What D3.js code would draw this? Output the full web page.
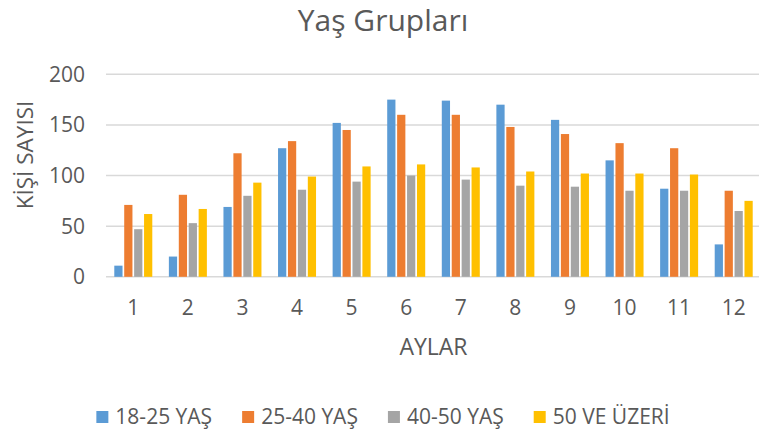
<!DOCTYPE html>
<meta charset="utf-8">
<script src="https://d3js.org/d3.v7.min.js"></script>
<style>
  body { margin: 0; background: #fff; }
  text { font-family: "Open Sans", sans-serif; fill: #595959; }
</style>
<div id="chart"></div>
<script>
// data
var months = ["1", "2", "3", "4", "5", "6", "7", "8", "9", "10", "11", "12"];
var seriesNames = ["18-25 YAŞ", "25-40 YAŞ", "40-50 YAŞ", "50 VE ÜZERİ"];
var colors = ["#5B9BD5", "#ED7D31", "#A5A5A5", "#FFC000"];
var yas18_25 = [11, 20, 69, 127, 152, 175, 174, 170, 155, 115, 87, 32];
var yas25_40 = [71, 81, 122, 134, 145, 160, 160, 148, 141, 132, 127, 85];
var yas40_50 = [47, 53, 80, 86, 94, 100, 96, 90, 89, 85, 85, 65];
var yas50plus = [62, 67, 93, 99, 109, 111, 108, 104, 102, 102, 101, 75];
var yTicks = [0, 50, 100, 150, 200];

var allSeries = [yas18_25, yas25_40, yas40_50, yas50plus];
var width = 759, height = 432;

var svg = d3.select("#chart")
  .append("svg")
    .attr("width", width)
    .attr("height", height);

var x0 = d3.scaleBand().domain(months).range([106, 761]).padding(0);
var groupW = 38;
var x1 = d3.scaleBand().domain(seriesNames).range([0, groupW]).paddingInner(0.17);
var y = d3.scaleLinear().domain([0, 200]).range([276.8, 74.3]);

// gridlines
svg.append("g")
  .selectAll("line")
  .data(yTicks)
  .enter()
  .append("line")
    .attr("x1", 106)
    .attr("x2", 761)
    .attr("y1", function(d) { return y(d); })
    .attr("y2", function(d) { return y(d); })
    .style("stroke", "#D9D9D9")
    .style("stroke-width", 1.5);

// y tick labels
svg.append("g")
  .selectAll("text")
  .data(yTicks)
  .enter()
  .append("text")
    .attr("x", 85)
    .attr("y", function(d) { return y(d); })
    .attr("dy", "0.36em")
    .attr("text-anchor", "end")
    .style("font-size", "21px")
    .text(function(d) { return d; });

// bars
var groups = svg.append("g")
  .selectAll("g")
  .data(months)
  .enter()
  .append("g")
    .attr("transform", function(m) {
      return "translate(" + (x0(m) + (x0.bandwidth() - groupW) / 2) + ",0)";
    });

groups.selectAll("rect")
  .data(function(m, i) {
    return seriesNames.map(function(s, k) { return {s: s, k: k, v: allSeries[k][i]}; });
  })
  .enter()
  .append("rect")
    .attr("x", function(d) { return x1(d.s); })
    .attr("width", x1.bandwidth())
    .attr("y", function(d) { return y(d.v); })
    .attr("height", function(d) { return y(0) - y(d.v); })
    .style("fill", function(d) { return colors[d.k]; });

// x tick labels
svg.append("g")
  .selectAll("text")
  .data(months)
  .enter()
  .append("text")
    .attr("x", function(m) { return x0(m) + x0.bandwidth() / 2; })
    .attr("y", 315)
    .attr("text-anchor", "middle")
    .style("font-size", "21px")
    .text(function(m) { return m; });

// titles
svg.append("text")
  .attr("x", 383)
  .attr("y", 31)
  .attr("text-anchor", "middle")
  .style("font-size", "30px")
  .text("Yaş Grupları");

svg.append("text")
  .attr("x", 433.5)
  .attr("y", 355)
  .attr("text-anchor", "middle")
  .style("font-size", "23px")
  .text("AYLAR");

svg.append("text")
  .attr("transform", "translate(33,155) rotate(-90)")
  .attr("text-anchor", "middle")
  .style("font-size", "22.5px")
  .text("KİŞİ SAYISI");

// legend
var legend = svg.append("g");
var items = legend.selectAll("g")
  .data(seriesNames)
  .enter()
  .append("g");

items.append("rect")
  .attr("y", 411)
  .attr("width", 12)
  .attr("height", 12)
  .style("fill", function(d, i) { return colors[i]; });

items.append("text")
  .attr("x", 19)
  .attr("y", 424)
  .style("font-size", "21px")
  .text(function(d) { return d; });

var pos = 0, gap = 30, offsets = [];
items.each(function() {
  offsets.push(pos);
  pos += 19 + d3.select(this).select("text").node().getComputedTextLength() + gap;
});
var total = pos - gap;
var startX = 383 - total / 2;
items.attr("transform", function(d, i) { return "translate(" + (startX + offsets[i]) + ",0)"; });
</script>
